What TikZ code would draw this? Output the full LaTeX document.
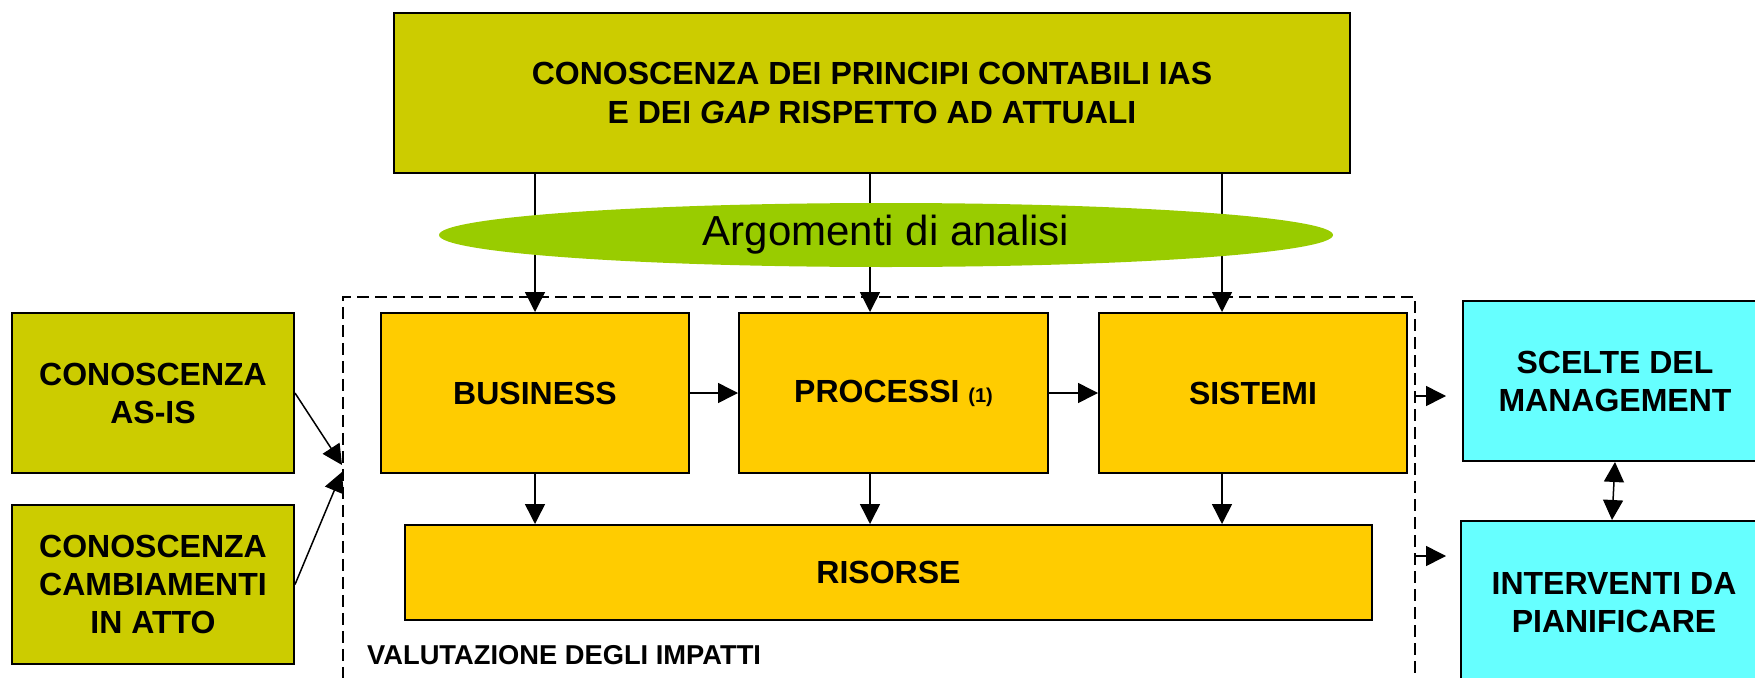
\documentclass[tikz,border=0pt]{standalone}
\usepackage{fontspec}
\setmainfont{Liberation Sans}
\usetikzlibrary{arrows.meta,shapes.geometric}
\definecolor{olivey}{RGB}{204,204,0}
\definecolor{limeg}{RGB}{153,204,0}
\definecolor{ambery}{RGB}{255,204,0}
\definecolor{cyanb}{RGB}{102,255,255}
\tikzset{
  boxbase/.style={draw=black, line width=2pt, rectangle, inner sep=0pt, anchor=north west, align=center,
    font=\fontsize{32}{38}\selectfont\bfseries},
  olivebox/.style={boxbase, fill=olivey},
  amberbox/.style={boxbase, fill=ambery},
  cyanbox/.style={boxbase, fill=cyanb},
  arr/.style={line width=1.5pt, -{Triangle[length=20pt,width=20pt]}},
  darr/.style={line width=1.5pt, {Triangle[length=20pt,width=20pt]}-{Triangle[length=20pt,width=20pt]}},
  dashbox/.style={draw=black, line width=1.5pt, dash pattern=on 12pt off 6pt}
}
\begin{document}
\begin{tikzpicture}[x=1pt,y=-1pt]
\useasboundingbox (0,0) rectangle (1755,677);
\clip (0,0) rectangle (1755,677);
% evaluation frame
\node[dashbox, rectangle, inner sep=0pt, anchor=north west, minimum width=1072, minimum height=420] (val) at (342,296) {};
\node[anchor=base west, inner sep=0pt, font=\fontsize{27.3}{30}\selectfont\bfseries] (valt) at (367,664) {VALUTAZIONE DEGLI IMPATTI};
% nodes
\node[olivebox, minimum width=956, minimum height=160] (top) at (393,12)
  {CONOSCENZA DEI PRINCIPI CONTABILI IAS\\[1pt]E DEI \textit{GAP} RISPETTO AD ATTUALI};
\node[amberbox, minimum width=308, minimum height=160] (bus) at (380,312) {BUSINESS};
\node[amberbox, minimum width=309, minimum height=160] (proc) at (738,312) {PROCESSI {\fontsize{20}{22}\selectfont(1)}};
\node[amberbox, minimum width=308, minimum height=160] (sis) at (1098,312) {SISTEMI};
\node[amberbox, minimum width=967, minimum height=95] (ris) at (404,524) {RISORSE};
\node[olivebox, minimum width=282, minimum height=160] (asis) at (11,312) {CONOSCENZA\\AS-IS};
\node[olivebox, minimum width=282, minimum height=159] (camb) at (11,504) {CONOSCENZA\\CAMBIAMENTI\\IN ATTO};
\node[cyanbox, minimum width=304, minimum height=160] (scel) at (1462,300) {SCELTE DEL\\MANAGEMENT};
\node[cyanbox, minimum width=306, minimum height=163] (inter) at (1460,520) {INTERVENTI DA\\PIANIFICARE};
% column coordinates
\coordinate (c1) at (535,0);
\coordinate (c2) at (870,0);
\coordinate (c3) at (1222,0);
% arrows from top box (behind ellipse)
\draw[arr] (top.south -| c1) -- (bus.north -| c1);
\draw[arr] (top.south -| c2) -- (proc.north -| c2);
\draw[arr] (top.south -| c3) -- (sis.north -| c3);
% ellipse
\node[ellipse, fill=limeg, inner sep=0pt, minimum width=894, minimum height=64,
  font=\fontsize{42}{46}\selectfont] (arg) at (886,235) {Argomenti di analisi};
% internal arrows
\draw[arr] (bus.east) -- (proc.west);
\draw[arr] (proc.east) -- (sis.west);
\draw[arr] (bus.south -| c1) -- (ris.north -| c1);
\draw[arr] (proc.south -| c2) -- (ris.north -| c2);
\draw[arr] (sis.south -| c3) -- (ris.north -| c3);
% inputs
\coordinate (in1) at (342,465);
\coordinate (in2) at (342,472);
\draw[arr] (asis.east) -- (in1);
\draw[arr] (camb.east) -- (in2);
% outputs
\coordinate (o1a) at (1414,396);
\coordinate (o1b) at (1446,396);
\coordinate (o2a) at (1414,556);
\coordinate (o2b) at (1446,556);
\draw[arr] (o1a) -- (o1b);
\draw[arr] (o2a) -- (o2b);
% double arrow
\coordinate (d1) at (1615,0);
\coordinate (d2) at (1612,0);
\draw[darr] (scel.south -| d1) -- (inter.north -| d2);
\end{tikzpicture}
\end{document}
